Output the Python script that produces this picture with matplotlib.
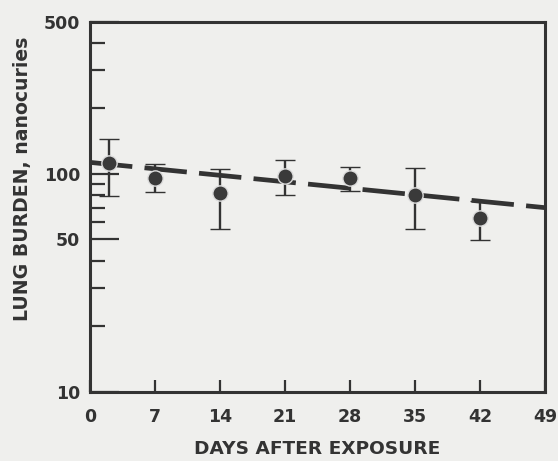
#! /usr/bin/python

# LUNG BURDEN VS DAYS AFTER EXPOSURE

from matplotlib import pyplot as plt
from matplotlib import ticker
import numpy as np

days = [2, 7, 14, 21, 28, 35, 42]
burden = [112, 96, 81.5, 98, 95.5, 80, 62.5]
err_hi = [145, 111, 105, 116, 108, 106, 75]
err_lo = [79, 83, 56, 80, 83.5, 56, 49.5]

fit_days = [0, 49]
fit_burden = [113, 70]

xticks = [0, 7, 14, 21, 28, 35, 42, 49]
yticks = [10, 50, 100, 500]

bg = '#efefed'
ink = '#333333'

plt.rcParams['font.family'] = ['DejaVu Sans']
plt.rcParams['font.weight'] = 'bold'

fig = plt.figure(figsize=(5.58, 4.61), dpi=100, facecolor=bg)
ax = fig.add_axes([0.1613, 0.1503, 0.8154, 0.8026], facecolor=bg)

ax.plot(fit_days, fit_burden, color=ink, lw=3.4, dashes=(9, 2.6),
        solid_capstyle='butt', dash_capstyle='butt', zorder=2)

b = np.array(burden)
yerr = [b - np.array(err_lo), np.array(err_hi) - b]
ax.errorbar(days, burden, yerr=yerr, fmt='o', color=ink, ms=11,
            mfc='#3a3a3a', mec='#dddddd', mew=1.0, ecolor=ink, elinewidth=1.7,
            capsize=7, capthick=1.9, zorder=3)

ax.set_yscale('log')
ax.set_xlim(0, 49)
ax.set_ylim(10, 500)

ax.set_xticks(xticks)
ax.set_xticklabels([str(t) for t in xticks])
ax.yaxis.set_major_locator(ticker.FixedLocator(yticks))
ax.yaxis.set_major_formatter(ticker.FixedFormatter([str(t) for t in yticks]))
ax.yaxis.set_minor_locator(ticker.LogLocator(base=10, subs=np.arange(2, 10)))
ax.yaxis.set_minor_formatter(ticker.NullFormatter())

ax.tick_params(axis='x', direction='in', length=9, width=1.6, pad=12,
               colors=ink, labelsize=12.5)
ax.tick_params(axis='y', which='major', direction='in', length=21, width=1.6,
               pad=7, colors=ink, labelsize=12.5)
ax.tick_params(axis='y', which='minor', direction='in', length=11, width=1.6,
               colors=ink)

for s in ax.spines.values():
    s.set_linewidth(2.2)
    s.set_color(ink)

ax.set_xlabel('DAYS AFTER EXPOSURE', fontsize=13.3, fontweight='bold',
              color=ink, labelpad=10)
ax.set_ylabel('LUNG BURDEN, nanocuries', fontsize=13.6, fontweight='bold',
              color=ink)
ax.yaxis.set_label_coords(-0.128, 0.575)

plt.savefig('out.png', dpi=100, facecolor=bg)
